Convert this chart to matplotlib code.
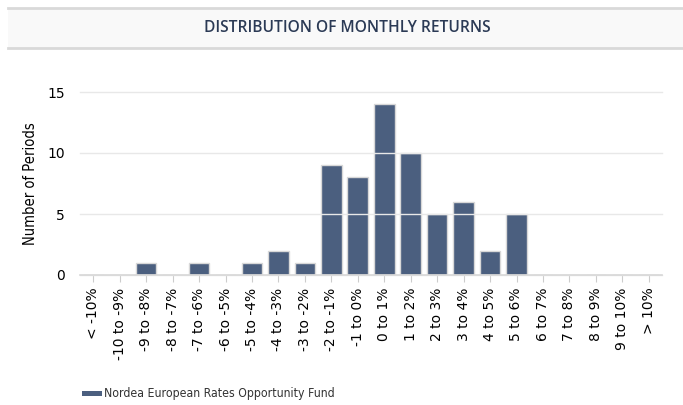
import numpy as np
import matplotlib.pyplot as plt
from matplotlib.patches import Rectangle
from matplotlib.lines import Line2D

categorias = ['< -10%', '-10 to -9%', '-9 to -8%', '-8 to -7%', '-7 to -6%', '-6 to -5%',
              '-5 to -4%', '-4 to -3%', '-3 to -2%', '-2 to -1%', '-1 to 0%', '0 to 1%',
              '1 to 2%', '2 to 3%', '3 to 4%', '4 to 5%', '5 to 6%', '6 to 7%',
              '7 to 8%', '8 to 9%', '9 to 10%', '> 10%']
periodos = [0, 0, 1, 0, 1, 0, 1, 2, 1, 9, 8, 14, 10, 5, 6, 2, 5, 0, 0, 0, 0, 0]
y_ticks = [0, 5, 10, 15]
nome_fundo = 'Nordea European Rates Opportunity Fund'
titulo = 'DISTRIBUTION OF MONTHLY RETURNS'

cor_barra = '#4b5f7f'
cor_titulo = '#2b3a55'

fig = plt.figure(figsize=(6.83, 4.05), dpi=100)

# faixa do titulo
fig.patches.append(Rectangle((0.012, 0.882), 0.988, 0.098, transform=fig.transFigure,
                             facecolor='#f9f9f9', edgecolor='none', zorder=0))
for yy in (0.882, 0.980):
    fig.add_artist(Line2D([0.012, 1.0], [yy, yy], transform=fig.transFigure,
                          color='#d9d9d9', lw=2))
fig.text(0.508, 0.930, titulo, ha='center', va='center', color=cor_titulo,
         fontsize=11.2, fontfamily='Open Sans', fontweight='semibold')

ax = fig.add_axes([80 / 683, 1 - 275 / 405, 582 / 683, 183 / 405])
x = np.arange(len(categorias))
ax.bar(x, periodos, width=0.78, color=cor_barra, edgecolor='#d8d8d8', linewidth=1, zorder=2)

ax.set_xlim(-0.5, len(categorias) - 0.5)
ax.set_ylim(0, 15)
ax.set_yticks(y_ticks)
ax.set_xticks(x)
ax.set_xticklabels(categorias, rotation=90, fontsize=10)
ax.tick_params(axis='y', length=0, labelsize=10, pad=11)
ax.tick_params(axis='x', length=5, color='#cccccc', pad=4)
ax.grid(axis='y', color='#e8e8e8', lw=1, zorder=3, clip_on=False)
ax.set_axisbelow(False)
for s in ['top', 'right', 'left']:
    ax.spines[s].set_visible(False)
ax.spines['bottom'].set_color('#d8d8d8')
ax.spines['bottom'].set_linewidth(1.2)
ax.spines['bottom'].set_zorder(4)
ax.set_ylabel('Number of Periods', fontsize=10.5, fontstretch='condensed')
ax.yaxis.set_label_coords(-0.072, 0.5)

# legenda
fig.patches.append(Rectangle((82 / 683, 1 - 396 / 405), 20 / 683, 5 / 405,
                             transform=fig.transFigure, facecolor=cor_barra, edgecolor='none'))
fig.text(104 / 683, 1 - 394 / 405, nome_fundo, ha='left', va='center', fontsize=8.8,
         fontstretch='condensed', color='#333333')

fig.savefig('out.png', dpi=100)
